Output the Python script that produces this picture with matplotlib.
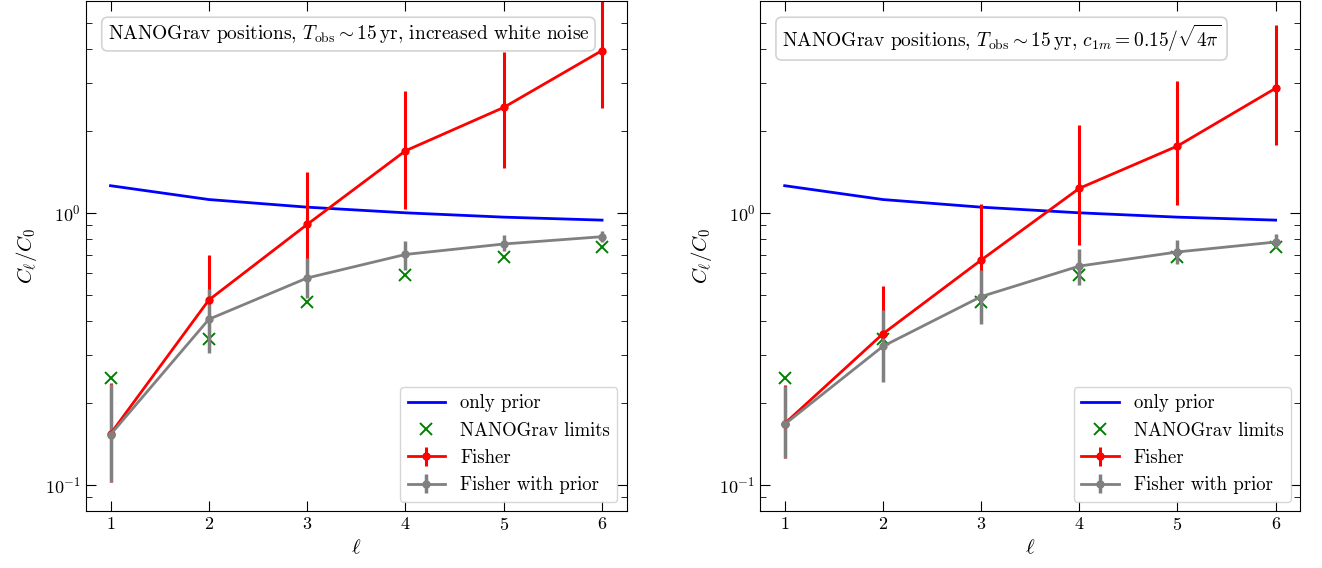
import numpy as np
import matplotlib.pyplot as plt

plt.rcParams['font.family'] = 'serif'
plt.rcParams['font.serif'] = ['cmr10', 'DejaVu Serif']
plt.rcParams['mathtext.fontset'] = 'cm'
plt.rcParams['axes.formatter.use_mathtext'] = True
plt.rcParams['axes.unicode_minus'] = False

ell = np.array([1, 2, 3, 4, 5, 6])

# prior and NANOGrav limits (same in both panels)
prior = [1.258, 1.119, 1.049, 1.0, 0.964, 0.940]
ng_limits = [0.246, 0.343, 0.472, 0.59, 0.689, 0.749]

# left panel: increased white noise
fisher_L = [0.154, 0.478, 0.906, 1.69, 2.44, 3.95]
fisher_L_lo = [0.102, 0.33, 0.58, 1.03, 1.46, 2.42]
fisher_L_hi = [0.237, 0.697, 1.415, 2.81, 3.89, 6.3]
prior_fisher_L = [0.153, 0.406, 0.576, 0.703, 0.768, 0.817]
prior_fisher_L_lo = [0.102, 0.306, 0.485, 0.616, 0.725, 0.78]
prior_fisher_L_hi = [0.235, 0.523, 0.685, 0.788, 0.83, 0.857]

# right panel: c_1m = 0.15/sqrt(4 pi)
fisher_R = [0.168, 0.359, 0.670, 1.23, 1.76, 2.87]
fisher_R_lo = [0.126, 0.24, 0.40, 0.764, 1.07, 1.78]
fisher_R_hi = [0.232, 0.538, 1.08, 2.10, 3.04, 4.92]
prior_fisher_R = [0.167, 0.323, 0.492, 0.637, 0.718, 0.781]
prior_fisher_R_lo = [0.126, 0.239, 0.391, 0.543, 0.65, 0.74]
prior_fisher_R_hi = [0.230, 0.439, 0.616, 0.739, 0.797, 0.838]

titles = [r'NANOGrav positions, $T_{\rm obs}\sim 15\,{\rm yr}$, increased white noise',
          r'NANOGrav positions, $T_{\rm obs}\sim 15\,{\rm yr}$, $c_{1m}=0.15/\sqrt{4\pi}$']

panels = [(fisher_L, fisher_L_lo, fisher_L_hi, prior_fisher_L, prior_fisher_L_lo, prior_fisher_L_hi),
          (fisher_R, fisher_R_lo, fisher_R_hi, prior_fisher_R, prior_fisher_R_lo, prior_fisher_R_hi)]

fig = plt.figure(figsize=(13.22, 5.68), dpi=100)
ax1 = fig.add_axes([0.065, 0.100, 0.409, 0.898])
ax2 = fig.add_axes([0.575, 0.100, 0.4085, 0.898])

for ax, title, (f, flo, fhi, p, plo, phi) in zip([ax1, ax2], titles, panels):
    f = np.array(f); p = np.array(p)
    ferr = [f - np.array(flo), np.array(fhi) - f]
    perr = [p - np.array(plo), np.array(phi) - p]
    ax.plot(ell, prior, color='blue', lw=2, label='only prior')
    ax.plot(ell, ng_limits, 'x', color='green', ms=9, mew=1.4, label='NANOGrav limits')
    ax.errorbar(ell, f, yerr=ferr, fmt='-o', color='red', lw=2, ms=5, elinewidth=2.2,
                label='Fisher')
    ax.errorbar(ell, p, yerr=perr, fmt='-o', color='gray', lw=2, ms=5, elinewidth=2.5,
                label='Fisher with prior')
    ax.set_yscale('log')
    ax.set_ylim(0.08, 6.0)
    ax.set_xlim(0.75, 6.25)
    ax.set_xticks(ell)
    ax.tick_params(which='both', direction='in', top=True, right=True, labelsize=13)
    ax.tick_params(which='major', length=7)
    ax.tick_params(which='minor', length=4)
    ax.set_xlabel(r'$\ell$', fontsize=15)
    ax.set_ylabel(r'$C_\ell/C_0$', fontsize=15)
    ax.text(0.04, 0.957, title, transform=ax.transAxes, fontsize=14, va='top', ha='left',
            bbox=dict(boxstyle='round,pad=0.3', fc='white', ec='lightgray', lw=1.2))
    ax.legend(loc='lower right', fontsize=13.5, framealpha=0.8)

plt.savefig('out.png', dpi=100)
